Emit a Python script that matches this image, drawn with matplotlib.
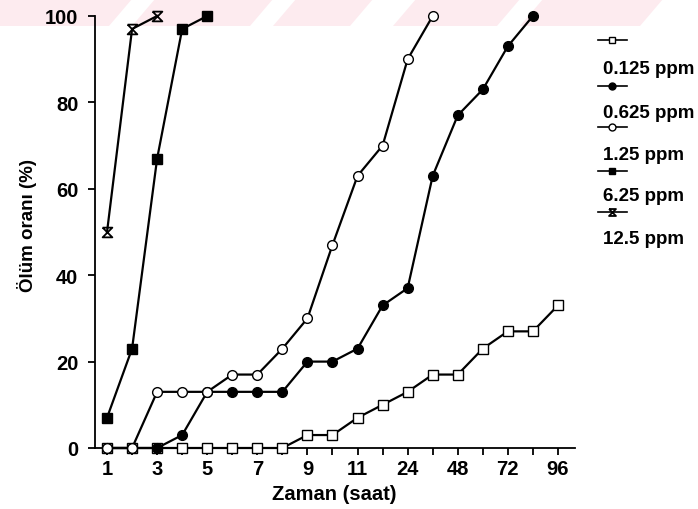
import numpy as np
import matplotlib
matplotlib.use("Agg")
import matplotlib.pyplot as plt
from matplotlib.path import Path
from matplotlib.lines import Line2D
from matplotlib.patches import Polygon

# category positions on the x axis (hours), labelled every other one
positions = np.arange(1, 20)
tick_labels = ["1", "", "3", "", "5", "", "7", "", "9", "", "11", "", "24", "", "48", "", "72", "", "96"]

# mortality (%) per concentration
ppm_0125 = [0, 0, 0, 0, 0, 0, 0, 0, 3, 3, 7, 10, 13, 17, 17, 23, 27, 27, 33]
ppm_0625 = [0, 0, 0, 3, 13, 13, 13, 13, 20, 20, 23, 33, 37, 63, 77, 83, 93, 100]
ppm_125 = [0, 0, 13, 13, 13, 17, 17, 23, 30, 47, 63, 70, 90, 100]
ppm_625 = [7, 23, 67, 97, 100]
ppm_125b = [50, 97, 100]

labels = ["0.125 ppm", "0.625 ppm", "1.25 ppm", "6.25 ppm", "12.5 ppm"]

plt.rcParams["font.family"] = ["Liberation Sans", "DejaVu Sans"]

# hourglass marker for 12.5 ppm
hourglass = Path([(-1, 1), (1, 1), (-1, -1), (1, -1), (-1, 1)],
                 [Path.MOVETO, Path.LINETO, Path.LINETO, Path.LINETO, Path.LINETO])

styles = [
    dict(marker="s", mfc="white", mec="black", ms=7),
    dict(marker="o", mfc="black", mec="black", ms=7),
    dict(marker="o", mfc="white", mec="black", ms=7),
    dict(marker="s", mfc="black", mec="black", ms=7),
    dict(marker=hourglass, mfc="none", mec="black", ms=7, mew=1.3),
]
series = [ppm_0125, ppm_0625, ppm_125, ppm_625, ppm_125b]

fig = plt.figure(figsize=(6.98, 5.10), dpi=100)

# faint pink watermark bands at the top
H = 510.0
W = 698.0
for a, b in [(-40, 109), (132, 250), (273, 350), (393, 497), (520, 640)]:
    pts = [(a / W, 1 - 27 / H), (b / W, 1 - 27 / H), ((b + 23) / W, 1.0), ((a + 23) / W, 1.0)]
    fig.patches.append(Polygon(pts, closed=True, transform=fig.transFigure,
                               facecolor="#fdebef", edgecolor="none", zorder=-10))

ax = fig.add_axes([95 / W, 1 - 449 / H, 480 / W, 432 / H])
ax.patch.set_alpha(0)

for vals, st in zip(series, styles):
    x = positions[:len(vals)]
    ax.plot(x, vals, color="black", lw=1.6, clip_on=False, zorder=3, **st)

ax.set_xlim(0.52, 19.68)
ax.set_ylim(0, 100)
ax.set_xticks(positions)
ax.set_xticklabels(tick_labels)
ax.set_yticks([0, 20, 40, 60, 80, 100])

for s in ["top", "right"]:
    ax.spines[s].set_visible(False)
ax.spines["left"].set_linewidth(1.3)
ax.spines["bottom"].set_linewidth(1.3)
ax.tick_params(axis="both", direction="out", length=5, width=1.3, labelsize=14.5)
ax.tick_params(axis="x", pad=3)
ax.tick_params(axis="y", pad=7)
for t in ax.get_xticklabels() + ax.get_yticklabels():
    t.set_fontweight("bold")

ax.set_xlabel("Zaman (saat)", fontsize=14.5, fontweight="bold")
ax.xaxis.set_label_coords(0.499, -0.106)
ax.xaxis.label.set_va("center")
ax.set_ylabel("Ölüm oranı (%)", fontsize=13.5, fontweight="bold")
ax.yaxis.set_label_coords(-0.142, 0.518)
ax.yaxis.label.set_va("center")

# legend: line sample above each label
handle_y = [41, 87, 128, 172, 213]
label_y = [69, 113, 156, 197, 240]
for st, lab, hy, ly in zip(styles, labels, handle_y, label_y):
    fig.add_artist(Line2D([598 / W, 612 / W, 627 / W], [1 - hy / H] * 3,
                          transform=fig.transFigure, color="black", lw=1.2,
                          marker=st["marker"], markevery=[1], mfc=st["mfc"], mec=st["mec"],
                          ms=5, mew=st.get("mew", 1.0)))
    fig.text(603 / W, 1 - ly / H, lab, fontsize=13.5, fontweight="bold", va="center", ha="left")

fig.savefig("out.png", dpi=100)
